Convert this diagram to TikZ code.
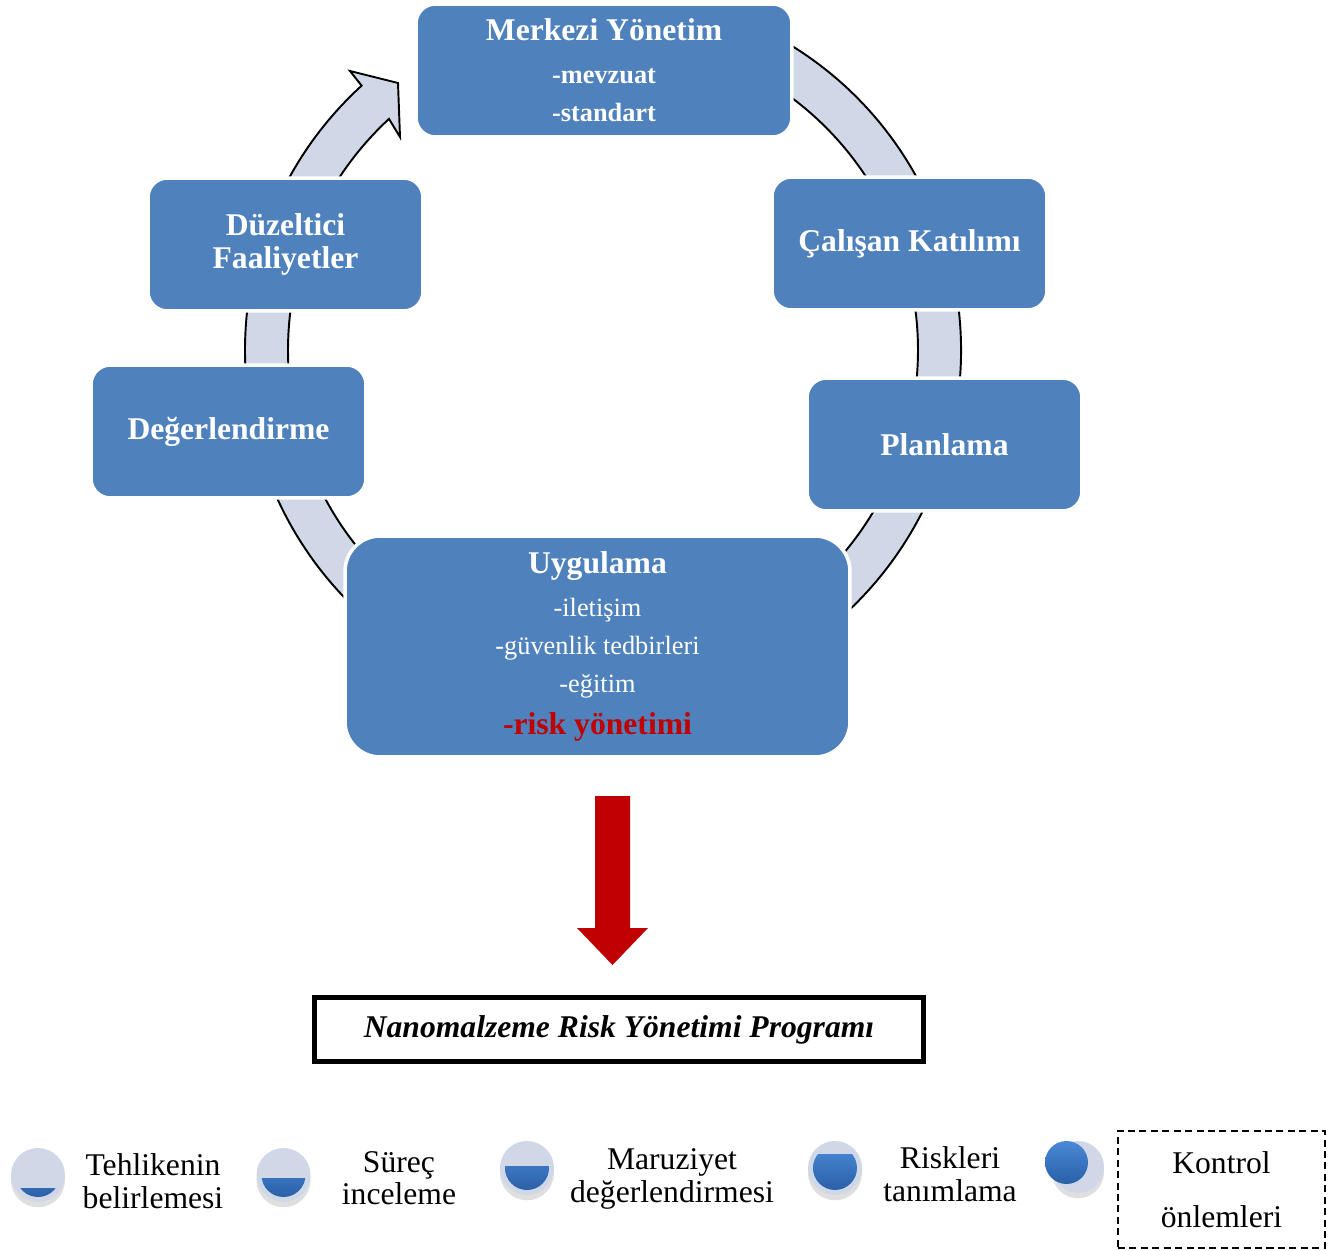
\documentclass[tikz,border=0pt]{standalone}
\usepackage{fontspec}
\setmainfont{Liberation Serif}
\usetikzlibrary{shadows}

\definecolor{boxblue}{RGB}{79,129,189}
\definecolor{ringgrey}{RGB}{208,216,232}
\definecolor{riskred}{RGB}{192,0,0}
\definecolor{balltop}{RGB}{74,136,214}
\definecolor{ballbottom}{RGB}{42,96,168}

\newcommand{\bigfs}{\fontsize{18}{19}\selectfont}
\newcommand{\subfs}{\fontsize{15}{21.5}\selectfont}
\newcommand{\legfs}{\fontsize{18}{18.5}\selectfont}

\begin{document}
\begin{tikzpicture}
  [x=0.02cm, y=0.02cm,
   box/.style = {rectangle, rounded corners=11pt, fill=boxblue,
                 draw=white, line width=2pt, text=white,
                 font=\bigfs\bfseries, align=center,
                 minimum width=5.5cm, minimum height=2.66cm},
   ring/.style = {fill=ringgrey, draw=black, line width=1.1pt},
   ball/.style = {fill=ringgrey,
                  drop shadow={opacity=0.25, shadow xshift=0pt, shadow yshift=-3pt}},
   legtext/.style = {font=\legfs, align=center}]

  \useasboundingbox (0,0) rectangle (1333,-1251);
  \coordinate (O) at (603,-350);

  % Dairesel ok
  \draw[ring] ([shift={(O)}]60:358) arc[start angle=60, end angle=-227.6, radius=358]
    -- (350,-71) -- (398,-83) -- (400,-137) -- ([shift={(O)}]-227.2:315)
    arc[start angle=-227.2, end angle=60, radius=315] -- cycle;

  % Kutular
  \node[box, minimum width=7.52cm, font=\subfs\bfseries] (merkezi) at (604,-70.5)
    {{\bigfs Merkezi Yönetim}\\[3pt] -mevzuat\\ -standart};
  \node[box] (calisan) at (909.5,-243.5) {Çalışan Katılımı};
  \node[box] (planlama) at (944.5,-444.5) {Planlama};
  \node[box, minimum width=10.1cm, minimum height=4.42cm, rounded corners=20pt,
        font=\subfs] (uygulama) at (597.5,-646.5)
    {{\bigfs\bfseries Uygulama}\\[3pt] -iletişim\\ -güvenlik tedbirleri\\ -eğitim\\[2.3pt]
     {\bigfs\bfseries\color{riskred} -risk yönetimi}};
  \node[box] (degerlendirme) at (228.5,-431.5) {Değerlendirme};
  \node[box] (duzeltici) at (285.5,-244.5) {Düzeltici\\Faaliyetler};

  % Kirmizi ok
  \coordinate (arrowtop) at (612.5,-796);
  \fill[riskred] (arrowtop) ++(-17.5,0) -- ++(35,0) -- ++(0,-132) -- ++(18,0)
    -- ++(-35.5,-37) -- ++(-35.5,37) -- ++(18,0) -- cycle;

  % Program
  \node[draw=black, line width=2.8pt, minimum width=12.18cm, minimum height=1.28cm,
        font=\fontsize{18}{19}\selectfont\bfseries\itshape] (program) at (619,-1029.5)
    {Nanomalzeme Risk Yönetimi Programı};

  % Lejant toplari
  \foreach \x/\y/\lev in {38/-1175/-1188, 283.5/-1175/-1178, 527/-1168/-1166, 835/-1168/-1154}
  {
    \fill[ball] (\x,\y) circle (27);
    \begin{scope}
      \clip (\x-30,\lev) rectangle (\x+30,\y-30);
      \shade[top color=balltop, bottom color=ballbottom] (\x,\y) circle (22);
    \end{scope}
  }
  \fill[ball] (1078,-1167) circle (26);
  \shade[top color=balltop, bottom color=ballbottom] (1066.5,-1162.5) circle (21.5);

  % Lejant yazilari
  \node[legtext] (tehlike) at (153,-1181) {Tehlikenin\\belirlemesi};
  \node[legtext] (surec) at (399,-1178) {Süreç\\inceleme};
  \node[legtext] (maruziyet) at (672,-1179) {Maruziyet\\değerlendirmesi};
  \node[legtext] (riskler) at (950,-1174) {Riskleri\\tanımlama};
  \node[legtext, draw=black, dash pattern=on 4pt off 2.5pt, line width=1.3pt,
        minimum width=4.14cm, minimum height=2.34cm] (kontrol) at (1221.5,-1189.5)
    {Kontrol\\[12.5pt]önlemleri};
\end{tikzpicture}
\end{document}
